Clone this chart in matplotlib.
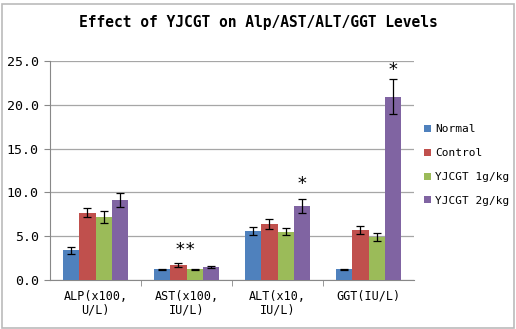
import matplotlib
matplotlib.use("Agg")
import matplotlib.pyplot as plt
import numpy as np
from matplotlib.patches import Rectangle

categories = ["ALP(x100,\nU/L)", "AST(x100,\nIU/L)", "ALT(x10,\nIU/L)", "GGT(IU/L)"]
series = ["Normal", "Control", "YJCGT 1g/kg", "YJCGT 2g/kg"]
normal = [3.4, 1.2, 5.6, 1.2]
control = [7.7, 1.7, 6.4, 5.7]
yj1 = [7.2, 1.2, 5.5, 4.9]
yj2 = [9.1, 1.5, 8.5, 20.9]
normal_err = [0.4, 0.1, 0.5, 0.1]
control_err = [0.5, 0.2, 0.6, 0.5]
yj1_err = [0.7, 0.1, 0.4, 0.5]
yj2_err = [0.8, 0.1, 0.8, 2.0]
stars = [(1, 2, "**", 3.4), (2, 3, "*", 11.0), (3, 3, "*", 24.0)]

colors = ["#4F81BD", "#C0504D", "#9BBB59", "#8064A2"]
font = "DejaVu Sans Mono"

fig = plt.figure(figsize=(5.16, 3.29), dpi=100)
fig.patches.append(Rectangle((0.004, 0.004), 0.992, 0.985, transform=fig.transFigure,
                             fill=False, edgecolor="#BBBBBB", lw=1.2))
ax = fig.add_axes([50/516, 1-280/329, (414-50)/516, (280-61)/329])

x = np.arange(len(categories))
w = 0.18
vals = [normal, control, yj1, yj2]
errs = [normal_err, control_err, yj1_err, yj2_err]
for i, (v, e) in enumerate(zip(vals, errs)):
    ax.bar(x + (i - 1.5) * w, v, w, color=colors[i], label=series[i], zorder=3,
           yerr=e, error_kw=dict(ecolor="black", elinewidth=0.9, capsize=3, capthick=0.9, zorder=4))

for gi, si, s, yv in stars:
    ax.text(gi + (si - 1.5) * w - (0.1 if s == "**" else 0), yv, s, ha="center", va="center",
            fontsize=13, family=font)

ax.set_ylim(0, 25)
ax.set_xlim(-0.5, 3.5)
ax.set_yticks(np.arange(0, 25.1, 5))
ax.set_yticklabels([f"{t:.1f}" for t in np.arange(0, 25.1, 5)], family=font, fontsize=9.5)
ax.yaxis.grid(True, color="#A6A6A6", lw=0.9, zorder=0)
ax.set_xticks(x)
ax.set_xticklabels(categories, family=font, fontsize=8.5, linespacing=1.05)
ax.tick_params(axis="x", length=0, pad=7)
ax.tick_params(axis="y", length=4, color="#888888", pad=4)
ax.set_xticks([0.5, 1.5, 2.5], minor=True)
ax.tick_params(axis="x", which="minor", length=4, color="#888888")
for sp in ["top", "right"]:
    ax.spines[sp].set_visible(False)
for sp in ["left", "bottom"]:
    ax.spines[sp].set_color("#888888")

fig.text(0.5, 1-22/329, "Effect of YJCGT on Alp/AST/ALT/GGT Levels", ha="center", va="center",
         family=font, fontsize=10.5, fontweight="bold")

leg = ax.legend(loc="center left", bbox_to_anchor=(1.01, 0.525), frameon=False,
                prop=dict(family=font, size=8), handlelength=0.6, handleheight=0.6,
                handletextpad=0.4, labelspacing=1.25, borderaxespad=0.2)

fig.savefig("out.png", dpi=100)
